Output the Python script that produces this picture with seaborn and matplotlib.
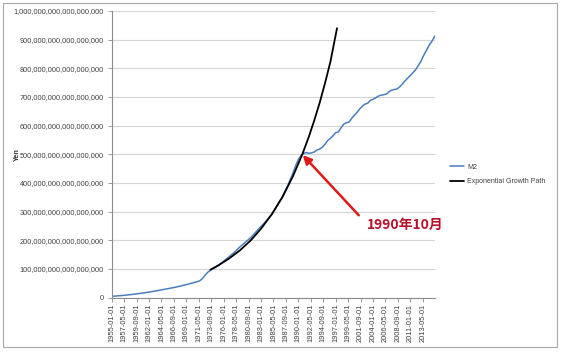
import numpy as np
import pandas as pd
import matplotlib
matplotlib.use("Agg")
import matplotlib.pyplot as plt
from matplotlib.patches import Rectangle
from matplotlib.ticker import FuncFormatter
import seaborn as sns

# Data (values in units of 10^15)
UNIT = 1e15
START = pd.Period("1955-01", freq="M")

m2_dates = ["1955-01", "1957-01", "1959-01", "1961-01", "1963-01", "1965-01", "1967-01",
            "1969-01", "1970-01", "1971-01", "1971-07", "1972-01", "1972-07", "1973-01",
            "1973-07", "1974-01", "1975-01", "1976-01", "1977-01", "1978-01", "1979-01",
            "1980-01", "1981-01", "1982-01", "1983-01", "1984-01", "1985-01", "1986-01",
            "1987-01", "1988-01", "1988-07", "1989-01", "1989-07", "1990-01", "1990-07",
            "1990-10", "1991-01", "1991-07", "1992-01", "1992-07", "1993-01", "1993-07",
            "1994-01", "1994-07", "1995-01", "1995-07", "1996-01", "1996-07", "1997-01",
            "1997-07", "1998-01", "1998-07", "1999-01", "1999-07", "2000-01", "2000-07",
            "2001-01", "2001-07", "2002-01", "2002-07", "2003-01", "2003-07", "2004-01",
            "2004-07", "2005-01", "2005-07", "2006-01", "2006-07", "2007-01", "2007-07",
            "2008-01", "2008-07", "2009-01", "2009-07", "2010-01", "2010-07", "2011-01",
            "2011-07", "2012-01", "2012-07", "2013-01", "2013-07", "2014-01", "2014-07",
            "2015-01", "2015-08"]
m2_values = [4, 7, 11, 16, 22, 29, 36,
             45, 50, 55, 58, 66, 78, 88,
             95, 100, 113, 127, 142, 158, 176,
             192, 208, 228, 248, 268, 290, 320,
             352, 390, 412, 435, 460, 482, 495,
             500, 503, 506, 503, 505, 508, 515,
             518, 525, 535, 548, 555, 565, 575,
             578, 592, 605, 610, 612, 625, 636,
             646, 658, 668, 675, 678, 688, 692,
             697, 703, 706, 708, 710, 718, 724,
             726, 728, 735, 745, 756, 766, 775,
             785, 795, 810, 825, 845, 862, 880,
             893, 912]

exp_dates = ["1973-07", "1975-01", "1977-01", "1979-01", "1981-01", "1983-01", "1985-01",
             "1987-01", "1989-01", "1990-10", "1992-01", "1993-01", "1994-01", "1995-01",
             "1996-01", "1997-04"]
exp_values = [97, 112, 136, 164, 198, 240, 290,
              350, 424, 500, 563, 619, 680, 748,
              822, 940]

series_names = ["M2", "Exponential Growth Path"]
tick_dates = ["1955-01", "1957-05", "1959-09", "1962-01", "1964-05", "1966-09", "1969-01",
              "1971-05", "1973-09", "1976-01", "1978-05", "1980-09", "1983-01", "1985-05",
              "1987-09", "1990-01", "1992-05", "1994-09", "1997-01", "1999-05", "2001-09",
              "2004-01", "2006-05", "2008-09", "2011-01", "2013-05"]
last_month = "2015-08"


def month_index(d):
    return (pd.Period(d, freq="M") - START).n


df = pd.concat([
    pd.DataFrame({"month": [month_index(d) for d in m2_dates],
                  "value": np.array(m2_values) * UNIT, "series": series_names[0]}),
    pd.DataFrame({"month": [month_index(d) for d in exp_dates],
                  "value": np.array(exp_values) * UNIT, "series": series_names[1]}),
])

sns.set_theme(style="white")
plt.rcParams['font.family'] = ['Liberation Sans', 'DejaVu Sans']

fig = plt.figure(figsize=(5.61, 3.53), dpi=100)
ax = fig.add_axes([111.5 / 561, 1 - 297.5 / 353, (435 - 111.5) / 561, (297.5 - 11) / 353])

sns.lineplot(data=df, x="month", y="value", hue="series", ax=ax,
             palette={"M2": "#4a7ebb", "Exponential Growth Path": "#000000"},
             linewidth=1.1, legend=False)
ax.get_lines()[1].set_linewidth(1.3)

ax.set_xlim(-0.5, month_index(last_month) + 0.5)
ax.set_ylim(0, 1e18)

ax.set_yticks(np.arange(0, 11) * 1e17)
ax.yaxis.set_major_formatter(FuncFormatter(lambda v, p: f"{v:,.0f}"))
ax.set_xticks([month_index(d) for d in tick_dates])
ax.set_xticklabels([d + "-01" for d in tick_dates], rotation=90)

ax.grid(axis="y", color="#d4d4d4", linewidth=0.8)
ax.set_axisbelow(True)
for s in ["top", "right"]:
    ax.spines[s].set_visible(False)
for s in ["left", "bottom"]:
    ax.spines[s].set_color("#8c8c8c")
    ax.spines[s].set_linewidth(0.8)
ax.tick_params(axis="y", labelsize=5.3, colors="#8c8c8c", labelcolor="#404040",
               length=3, width=0.6, left=True, pad=2.5)
ax.tick_params(axis="x", labelsize=5.4, colors="#8c8c8c", labelcolor="#404040",
               length=3, width=0.6, bottom=True, pad=1.5)
ax.set_xlabel("")
ax.set_ylabel("Yen", fontsize=5.2, fontweight="bold", color="#333333")
ax.yaxis.set_label_coords(-0.28, 0.5)

# legend
handles = [plt.Line2D([], [], color="#4a7ebb", lw=1.1),
           plt.Line2D([], [], color="#000000", lw=1.3)]
fig.legend(handles, series_names, loc="center left",
           bbox_to_anchor=(447 / 561, 1 - 174.5 / 353), frameon=False,
           fontsize=5, handlelength=2.0, handletextpad=0.4, labelspacing=1.1,
           borderpad=0, labelcolor="#404040")

# annotation
ax.annotate("1990年10月", xy=(month_index("1990-10") + 1, 497 * UNIT),
            xytext=(month_index("1990-10") + 145, 252 * UNIT),
            ha="left", va="center", fontsize=10, fontweight="bold", color="#b8102a",
            family=["Noto Sans CJK SC", "DejaVu Sans"],
            arrowprops=dict(arrowstyle="-|>,head_length=0.5,head_width=0.25",
                            color="#e01818", lw=1.8, relpos=(0, 0.6),
                            shrinkA=5, shrinkB=0))

# outer frame
fig.patches.append(Rectangle((3 / 561, 1 - 347 / 353), 554 / 561, 344 / 353,
                             transform=fig.transFigure, fill=False,
                             edgecolor="#a8a8a8", linewidth=0.8))

fig.savefig("out.png", dpi=100)
